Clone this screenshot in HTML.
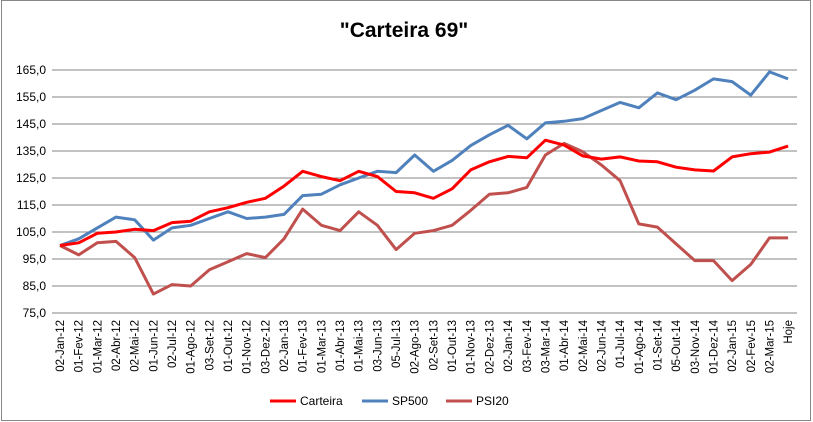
<!DOCTYPE html>
<html><head><meta charset="utf-8"><style>
html,body{margin:0;padding:0;background:#fff;}
svg{display:block;font-family:"Liberation Sans",sans-serif;}
</style></head><body>
<svg id="c" width="813" height="422" xmlns="http://www.w3.org/2000/svg">
<rect x="1.5" y="0.5" width="809" height="420" fill="#fff" stroke="#888"/>
<text x="404" y="37" text-anchor="middle" font-size="21" font-weight="bold" fill="#000">"Carteira 69"</text>
<g id="g"></g>
<line x1="270" y1="401" x2="296" y2="401" stroke="#ff0000" stroke-width="3"/>
<text x="300" y="405" font-size="12">Carteira</text>
<line x1="362" y1="401" x2="388" y2="401" stroke="#4f81bd" stroke-width="3"/>
<text x="392" y="405" font-size="12">SP500</text>
<line x1="446" y1="401" x2="472" y2="401" stroke="#c0504d" stroke-width="3"/>
<text x="476" y="405" font-size="12">PSI20</text>
</svg>
<script>
var g=document.getElementById('g'),ns="http://www.w3.org/2000/svg",h='';
function Y(v){return 313-(v-75)*2.7;}
for(var i=0;i<10;i++){var v=75+i*10,y=Y(v);h+='<line x1="52" x2="797" y1="'+y+'" y2="'+y+'" stroke="#868686" stroke-width="1"/>';
h+='<text x="46" y="'+(y+4)+'" text-anchor="end" font-size="12">'+v+',0</text>';}
var m=["Jan","Fev","Mar","Abr","Mai","Jun","Jul","Ago","Set","Out","Nov","Dez"];
var d12=["02","01","01","02","02","01","02","01","03","01","01","03"];
var d13=["02","01","01","01","01","03","05","02","02","01","01","02"];
var d14=["02","03","03","01","02","02","01","01","01","05","03","01"];
var d15=["02","02","02"];
var L=[];
for(i=0;i<12;i++)L.push(d12[i]+"-"+m[i]+"-12");
for(i=0;i<12;i++)L.push(d13[i]+"-"+m[i]+"-13");
for(i=0;i<12;i++)L.push(d14[i]+"-"+m[i]+"-14");
for(i=0;i<3;i++)L.push(d15[i]+"-"+m[i]+"-15");
L.push("Hoje");
function X(i){return 60+i*18.67;}
L.forEach(function(t,i){var x=X(i)+4;h+='<text transform="translate('+x+',320) rotate(-90)" text-anchor="end" font-size="11.5">'+t+'</text>';});
var C=[100,101,104.5,105,106,105.5,108.5,109,112.5,114,116,117.5,122,127.5,125.5,124,127.5,125.5,120,119.5,117.5,121,128,131,133,132.5,139,137.2,133.2,132,132.8,131.3,131,129,128,127.6,132.8,134,134.6,136.8];
var S=[100,102.5,106.5,110.5,109.5,102,106.5,107.5,110,112.5,110,110.5,111.5,118.5,119,122.5,125,127.5,127,133.5,127.5,131.5,137,141,144.5,139.5,145.4,146,147,150,153,151,156.5,154,157.5,161.7,160.7,155.7,164.3,161.7];
var P=[100,96.5,101,101.5,95.5,82,85.5,85,91,94,97,95.5,102.5,113.5,107.5,105.5,112.5,107.5,98.5,104.5,105.5,107.5,113,119,119.5,121.5,133.5,137.8,134.7,129.8,124,108,106.8,100.6,94.4,94.4,87,93,102.8,102.8];
function pl(a,c){return '<polyline fill="none" stroke="'+c+'" stroke-width="3" stroke-linejoin="round" points="'+a.map(function(v,i){return X(i).toFixed(1)+','+Y(v).toFixed(1);}).join(' ')+'"/>';}
h+=pl(P,"#c0504d")+pl(S,"#4f81bd")+pl(C,"#ff0000");
g.innerHTML=h;
</script>
</body></html>
